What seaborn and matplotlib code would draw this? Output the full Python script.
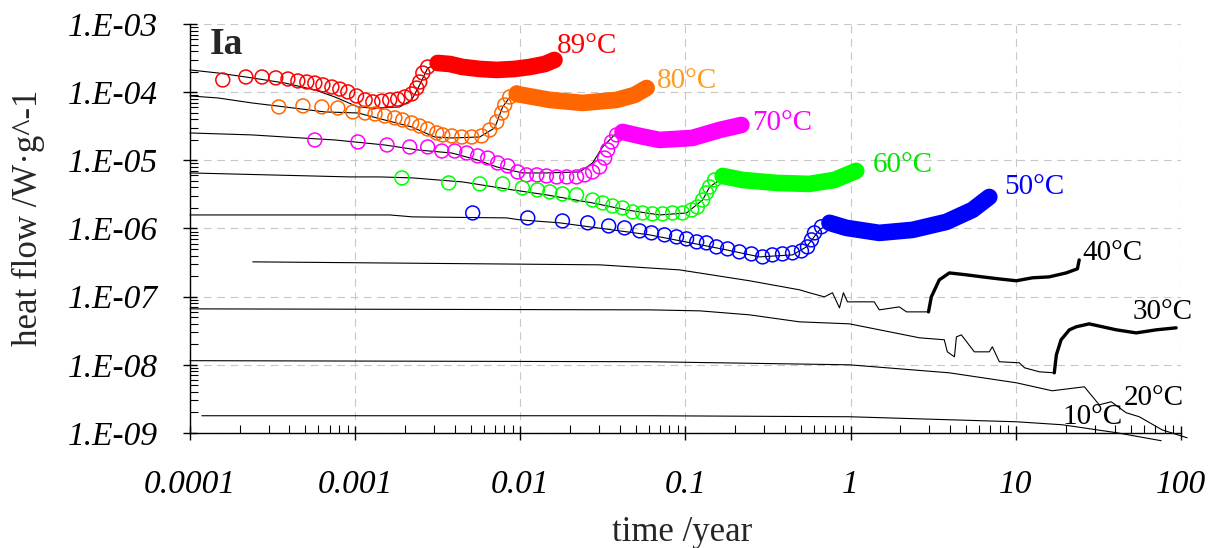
import matplotlib
matplotlib.use("Agg")
import matplotlib.pyplot as plt
import numpy as np
import seaborn as sns
from matplotlib.ticker import LogLocator, NullFormatter


# ---- data (time in years, heat flow in W/g) ----

# 89 degC
t89_pts = [1.58e-4, 2.18e-4, 2.73e-4, 3.31e-4, 3.92e-4, 4.50e-4, 5.10e-4, 5.70e-4,
           6.38e-4, 7.23e-4, 8.08e-4, 9.03e-4, 1.02e-3, 1.15e-3, 1.28e-3, 1.45e-3,
           1.62e-3, 1.81e-3, 2.00e-3, 2.20e-3, 2.36e-3, 2.46e-3, 2.57e-3, 2.75e-3, 3.16e-3]
q89_pts = [1.51e-4, 1.67e-4, 1.67e-4, 1.62e-4, 1.56e-4, 1.46e-4, 1.41e-4, 1.36e-4,
           1.28e-4, 1.19e-4, 1.11e-4, 1.01e-4, 8.8e-5, 7.7e-5, 7.2e-5, 7.4e-5,
           7.7e-5, 7.9e-5, 8.5e-5, 9.4e-5, 1.15e-4, 1.41e-4, 1.91e-4, 2.34e-4, 2.68e-4]
t89_band = [3.16e-3, 3.74e-3, 4.48e-3, 5.68e-3, 7.20e-3, 9.25e-3, 1.14e-2, 1.41e-2, 1.61e-2]
q89_band = [2.68e-4, 2.59e-4, 2.34e-4, 2.19e-4, 2.12e-4, 2.19e-4, 2.34e-4, 2.59e-4, 2.97e-4]
t89_fit = [1e-4, 1.48e-4, 2.37e-4, 3.76e-4, 5.70e-4, 7.54e-4, 1.04e-3, 1.26e-3,
           1.86e-3, 2.20e-3, 2.46e-3, 2.75e-3, 3.25e-3, 7.50e-3, 1.61e-2]
q89_fit = [2.12e-4, 1.91e-4, 1.62e-4, 1.36e-4, 1.08e-4, 8.5e-5, 6.07e-5, 5.86e-5,
           6.07e-5, 7.7e-5, 1.28e-4, 2.26e-4, 2.68e-4, 2.26e-4, 2.97e-4]

# 80 degC
t80_pts = [3.45e-4, 4.83e-4, 6.29e-4, 7.86e-4, 9.68e-4, 1.15e-3, 1.32e-3, 1.51e-3,
           1.74e-3, 1.94e-3, 2.20e-3, 2.46e-3, 2.75e-3, 3.12e-3, 3.39e-3, 3.85e-3,
           4.42e-3, 5.08e-3, 5.84e-3, 6.53e-3, 7.20e-3, 7.72e-3, 8.05e-3, 8.63e-3, 9.51e-3]
q80_pts = [6.07e-5, 6.28e-5, 6.07e-5, 5.86e-5, 5.13e-5, 4.95e-5, 4.79e-5, 4.48e-5,
           4.19e-5, 3.91e-5, 3.53e-5, 3.19e-5, 2.88e-5, 2.52e-5, 2.36e-5, 2.28e-5,
           2.20e-5, 2.20e-5, 2.28e-5, 2.79e-5, 3.66e-5, 4.95e-5, 6.49e-5, 8.5e-5, 9.73e-5]
t80_band = [9.51e-3, 1.51e-2, 2.38e-2, 3.83e-2, 4.92e-2, 5.82e-2]
q80_band = [9.4e-5, 7.7e-5, 6.95e-5, 7.7e-5, 9.1e-5, 1.15e-4]
t80_fit = [1e-4, 1.48e-4, 2.37e-4, 3.76e-4, 6.56e-4, 1.04e-3, 1.51e-3, 2.20e-3, 3.03e-3,
           3.85e-3, 5.68e-3, 7.0e-3, 7.82e-3, 9.0e-3, 1.14e-2, 3.02e-2, 5.82e-2]
q80_fit = [8.8e-5, 8.22e-5, 6.95e-5, 6.07e-5, 5.13e-5, 4.95e-5, 3.91e-5, 3.09e-5, 2.20e-5,
           2.13e-5, 2.20e-5, 2.99e-5, 6.07e-5, 9.73e-5, 9.1e-5, 7.7e-5, 1.15e-4]

# 70 degC
t70_pts = [5.70e-4, 1.04e-3, 1.56e-3, 2.14e-3, 2.75e-3, 3.35e-3, 4.01e-3, 4.74e-3, 5.52e-3,
           6.35e-3, 7.30e-3, 8.39e-3, 9.64e-3, 1.09e-2, 1.26e-2, 1.44e-2, 1.66e-2, 1.91e-2,
           2.19e-2, 2.45e-2, 2.74e-2, 3.02e-2, 3.24e-2, 3.38e-2, 3.57e-2, 3.83e-2, 4.16e-2]
q70_pts = [1.99e-5, 1.86e-5, 1.68e-5, 1.57e-5, 1.57e-5, 1.37e-5, 1.37e-5, 1.28e-5, 1.16e-5,
           1.08e-5, 9.16e-6, 8.28e-6, 6.76e-6, 6.11e-6, 6.11e-6, 5.90e-6, 5.71e-6, 5.71e-6,
           5.71e-6, 6.11e-6, 6.76e-6, 8.0e-6, 1.08e-5, 1.42e-5, 1.86e-5, 2.36e-5, 2.61e-5]
t70_band = [4.16e-2, 5.28e-2, 6.97e-2, 0.110, 0.161, 0.218]
q70_band = [2.61e-5, 2.28e-5, 1.99e-5, 2.13e-5, 2.79e-5, 3.30e-5]
t70_fit = [1e-4, 2.37e-4, 3.76e-4, 7.54e-4, 1.51e-3, 2.39e-3, 3.85e-3, 5.52e-3, 7.20e-3,
           1.03e-2, 1.44e-2, 2.29e-2, 2.74e-2, 3.15e-2, 3.72e-2, 6.97e-2, 0.218]
q70_fit = [2.52e-5, 2.36e-5, 2.20e-5, 1.99e-5, 1.68e-5, 1.42e-5, 1.28e-5, 1.01e-5, 8.0e-6,
           6.53e-6, 6.53e-6, 6.76e-6, 9.16e-6, 1.57e-5, 2.36e-5, 1.99e-5, 3.30e-5]

# 60 degC
t60_pts = [1.92e-3, 3.69e-3, 5.68e-3, 7.82e-3, 1.03e-2, 1.27e-2, 1.51e-2, 1.80e-2, 2.19e-2,
           2.74e-2, 3.15e-2, 3.62e-2, 4.16e-2, 4.79e-2, 5.50e-2, 6.32e-2, 7.27e-2, 8.36e-2,
           9.61e-2, 0.109, 0.118, 0.127, 0.134, 0.140, 0.150, 0.168]
q60_pts = [5.52e-6, 4.66e-6, 4.51e-6, 4.51e-6, 3.94e-6, 3.68e-6, 3.44e-6, 3.22e-6, 3.11e-6,
           2.62e-6, 2.37e-6, 2.14e-6, 2.00e-6, 1.75e-6, 1.69e-6, 1.64e-6, 1.64e-6, 1.69e-6,
           1.69e-6, 1.87e-6, 2.07e-6, 2.62e-6, 3.33e-6, 4.07e-6, 5.16e-6, 5.90e-6]
t60_band = [0.168, 0.221, 0.356, 0.563, 0.798, 1.08]
q60_band = [5.90e-6, 5.16e-6, 4.66e-6, 4.51e-6, 5.16e-6, 7.0e-6]
t60_fit = [1e-4, 9.29e-4, 1.41e-3, 2.23e-3, 4.48e-3, 9.0e-3, 1.44e-2, 2.74e-2, 4.40e-2,
           6.97e-2, 0.1016, 0.127, 0.140, 0.168]
q60_fit = [6.53e-6, 5.71e-6, 5.71e-6, 5.52e-6, 4.82e-6, 3.68e-6, 3.11e-6, 2.37e-6, 1.87e-6,
           1.58e-6, 1.69e-6, 2.62e-6, 4.07e-6, 5.52e-6]

# 50 degC
t50_pts = [5.15e-3, 1.11e-2, 1.80e-2, 2.56e-2, 3.43e-2, 4.28e-2, 5.28e-2, 6.23e-2, 7.47e-2,
           8.83e-2, 0.1016, 0.117, 0.134, 0.154, 0.180, 0.212, 0.251, 0.293, 0.336, 0.387,
           0.445, 0.504, 0.548, 0.579, 0.604, 0.666, 0.745]
q50_pts = [1.69e-6, 1.43e-6, 1.29e-6, 1.21e-6, 1.09e-6, 1.02e-6, 9.22e-7, 8.62e-7, 8.06e-7,
           7.53e-7, 7.04e-7, 6.36e-7, 6.15e-7, 5.37e-7, 5.02e-7, 4.54e-7, 4.24e-7, 3.83e-7,
           4.10e-7, 4.24e-7, 4.39e-7, 4.69e-7, 5.37e-7, 6.81e-7, 8.62e-7, 1.06e-6, 1.21e-6]
t50_band = [0.745, 0.943, 1.49, 2.37, 3.80, 5.46, 6.91]
q50_band = [1.21e-6, 1.02e-6, 8.62e-7, 9.54e-7, 1.25e-6, 1.87e-6, 2.90e-6]
t50_fit = [1e-4, 1.62e-3, 2.23e-3, 8.27e-3, 9.92e-3, 1.73e-2, 6.06e-2, 0.177, 0.281,
           0.445, 0.540, 0.648, 0.745]
q50_fit = [1.58e-6, 1.58e-6, 1.48e-6, 1.43e-6, 1.34e-6, 1.21e-6, 8.06e-7, 4.86e-7, 3.83e-7,
           4.10e-7, 5.37e-7, 9.54e-7, 1.21e-6]

# 40 degC
t40_fit = [2.40e-4, 3.02e-2, 9.21e-2, 0.244, 0.490, 0.563, 0.694, 0.776, 0.856, 0.904,
           0.957, 1.39, 1.49, 1.97, 2.18, 2.96]
q40_fit = [3.24e-7, 2.93e-7, 2.47e-7, 1.71e-7, 1.26e-7, 1.14e-7, 9.93e-8, 1.14e-7, 6.85e-8,
           1.14e-7, 8.39e-8, 8.39e-8, 6.40e-8, 7.08e-8, 5.98e-8, 5.98e-8]
t40_obs = [2.96, 3.08, 3.44, 3.96, 5.02, 6.27, 7.95, 10.07, 12.6, 15.9, 20.2, 23.6, 24.2]
q40_obs = [5.98e-8, 9.93e-8, 1.76e-7, 2.23e-7, 2.09e-7, 1.95e-7, 1.82e-7, 1.71e-7, 1.89e-7,
           1.95e-7, 2.23e-7, 2.56e-7, 3.46e-7]

# 30 degC
t30_fit = [1e-4, 6.06e-2, 0.122, 0.244, 0.490, 0.984, 2.61, 3.69, 3.85, 4.25, 4.37, 4.68,
           5.61, 6.91, 7.21, 7.95, 10.5, 11.3, 13.9, 17.1]
q30_fit = [6.62e-8, 6.40e-8, 6.19e-8, 5.41e-8, 4.27e-8, 3.99e-8, 2.49e-8, 2.33e-8, 1.55e-8,
           1.31e-8, 2.57e-8, 2.75e-8, 1.55e-8, 1.55e-8, 1.84e-8, 1.11e-8, 1.07e-8, 9.04e-9,
           7.89e-9, 7.63e-9]
t30_obs = [17.1, 17.6, 18.8, 21.1, 23.2, 27.8, 40.6, 53.6, 70.8, 93.5]
q30_obs = [7.63e-9, 1.40e-8, 2.33e-8, 3.26e-8, 3.61e-8, 3.99e-8, 3.26e-8, 2.94e-8, 3.26e-8,
           3.49e-8]

# 20 and 10 degC (model only)
t20_fit = [1e-4, 6.06e-2, 0.984, 3.96, 10.07, 16.6, 26.0, 32.0, 37.8, 46.6, 55.9, 76.9, 109]
q20_fit = [1.15e-8, 1.11e-8, 1.0e-8, 7.63e-9, 5.45e-9, 4.16e-9, 4.76e-9, 2.59e-9, 2.87e-9,
           1.98e-9, 1.73e-9, 1.11e-9, 8.5e-10]
t10_fit = [1.18e-4, 6.06e-2, 0.984, 10.07, 19.1, 40.6, 75.9]
q10_fit = [1.79e-9, 1.79e-9, 1.73e-9, 1.46e-9, 1.32e-9, 1.01e-9, 7.7e-10]

temp_labels = ["89°C", "80°C", "70°C", "60°C", "50°C", "40°C", "30°C", "20°C", "10°C"]
label_t = [1.66e-2, 6.68e-2, 0.255, 1.36, 8.52, 25.3, 50.7, 45.3, 19.1]
label_q = [4.7e-4, 1.46e-4, 3.53e-5, 8.56e-6, 4.07e-6, 4.39e-7, 5.98e-8, 3.28e-9, 1.73e-9]
label_colors = ["#ff0000", "#ff9a22", "#ff00ff", "#00e600", "#0000ff",
                "black", "black", "black", "black"]

x_ticks = [1e-4, 1e-3, 1e-2, 1e-1, 1, 10, 100]
x_ticklabels = ["0.0001", "0.001", "0.01", "0.1", "1", "10", "100"]
y_ticks = [1e-9, 1e-8, 1e-7, 1e-6, 1e-5, 1e-4, 1e-3]
y_ticklabels = ["1.E-09", "1.E-08", "1.E-07", "1.E-06", "1.E-05", "1.E-04", "1.E-03"]


sns.set_theme(style="white")
plt.rcParams["font.family"] = ["Liberation Serif", "DejaVu Serif"]

figure = plt.figure(figsize=(12.13, 5.48), dpi=100)
ax = figure.add_axes([0.1566, 0.2099, 0.8170, 0.7463])
ax.set_xscale("log")
ax.set_yscale("log")

# model curves (thin black)
for t, q in [(t89_fit, q89_fit), (t80_fit, q80_fit), (t70_fit, q70_fit),
             (t60_fit, q60_fit), (t50_fit, q50_fit), (t40_fit, q40_fit),
             (t30_fit, q30_fit), (t20_fit, q20_fit), (t10_fit, q10_fit)]:
    sns.lineplot(x=t, y=q, ax=ax, color="black", linewidth=0.8,
                 sort=False, estimator=None, clip_on=False, zorder=2)

# measured data: open circles, then the dense part as a solid band
series = [
    (t89_pts, q89_pts, t89_band, q89_band, "#ff0000"),
    (t80_pts, q80_pts, t80_band, q80_band, "#ff6600"),
    (t70_pts, q70_pts, t70_band, q70_band, "#ff00ff"),
    (t60_pts, q60_pts, t60_band, q60_band, "#00ff00"),
    (t50_pts, q50_pts, t50_band, q50_band, "#0000ff"),
]
for tp, qp, tb, qb, c in series:
    sns.scatterplot(x=tp, y=qp, ax=ax, s=100, marker="o", facecolor="none",
                    edgecolor=c, linewidth=1.1, legend=False, zorder=3)
    sns.lineplot(x=tb, y=qb, ax=ax, color=c, linewidth=12, sort=False,
                 estimator=None, solid_capstyle="round", zorder=4)

# low temperature measurements (noisy black)
for t, q in [(t40_obs, q40_obs), (t30_obs, q30_obs)]:
    sns.lineplot(x=t, y=q, ax=ax, color="black", linewidth=2.4,
                 sort=False, estimator=None, zorder=3)

for lab, t, q, c in zip(temp_labels, label_t, label_q, label_colors):
    ax.text(t, q, lab, color=c, fontsize=21, ha="left", va="center")

ax.text(0.02, 0.95, "Ia", transform=ax.transAxes, fontsize=27,
        fontweight="bold", va="center", ha="left")

ax.set_xticks(x_ticks, labels=x_ticklabels, fontstyle="italic", fontsize=24)
ax.set_yticks(y_ticks, labels=y_ticklabels, fontstyle="italic", fontsize=24)
ax.xaxis.set_minor_locator(LogLocator(base=10, subs=np.arange(2, 10), numticks=30))
ax.yaxis.set_minor_locator(LogLocator(base=10, subs=np.arange(2, 10), numticks=30))
ax.xaxis.set_minor_formatter(NullFormatter())
ax.yaxis.set_minor_formatter(NullFormatter())
ax.set_xlim(1e-4, 100)
ax.set_ylim(1e-9, 1e-3)

ax.tick_params(which="both", bottom=True, left=True, colors="black")
ax.tick_params(which="major", direction="inout", length=10, width=1)
ax.tick_params(which="minor", direction="in", length=6, width=0.8)
ax.tick_params(axis="x", which="major", pad=21)
ax.tick_params(axis="y", which="major", pad=18)

ax.grid(True, which="major", color="#c8c8c8", linestyle=(0, (7, 5)), linewidth=0.8)
ax.set_axisbelow(True)
for side in ["top", "right"]:
    ax.spines[side].set_visible(False)
for side in ["left", "bottom"]:
    ax.spines[side].set_color("black")
    ax.spines[side].set_linewidth(1.0)

ax.set_xlabel("time /year", fontsize=25)
ax.xaxis.set_label_coords(0.497, -0.244)
ax.xaxis.label.set_va("center")
ax.set_ylabel("heat flow /W·g^-1", fontsize=25)
ax.yaxis.set_label_coords(-0.163, 0.526)
ax.yaxis.label.set_va("center")

figure.savefig("out.png", dpi=100)
